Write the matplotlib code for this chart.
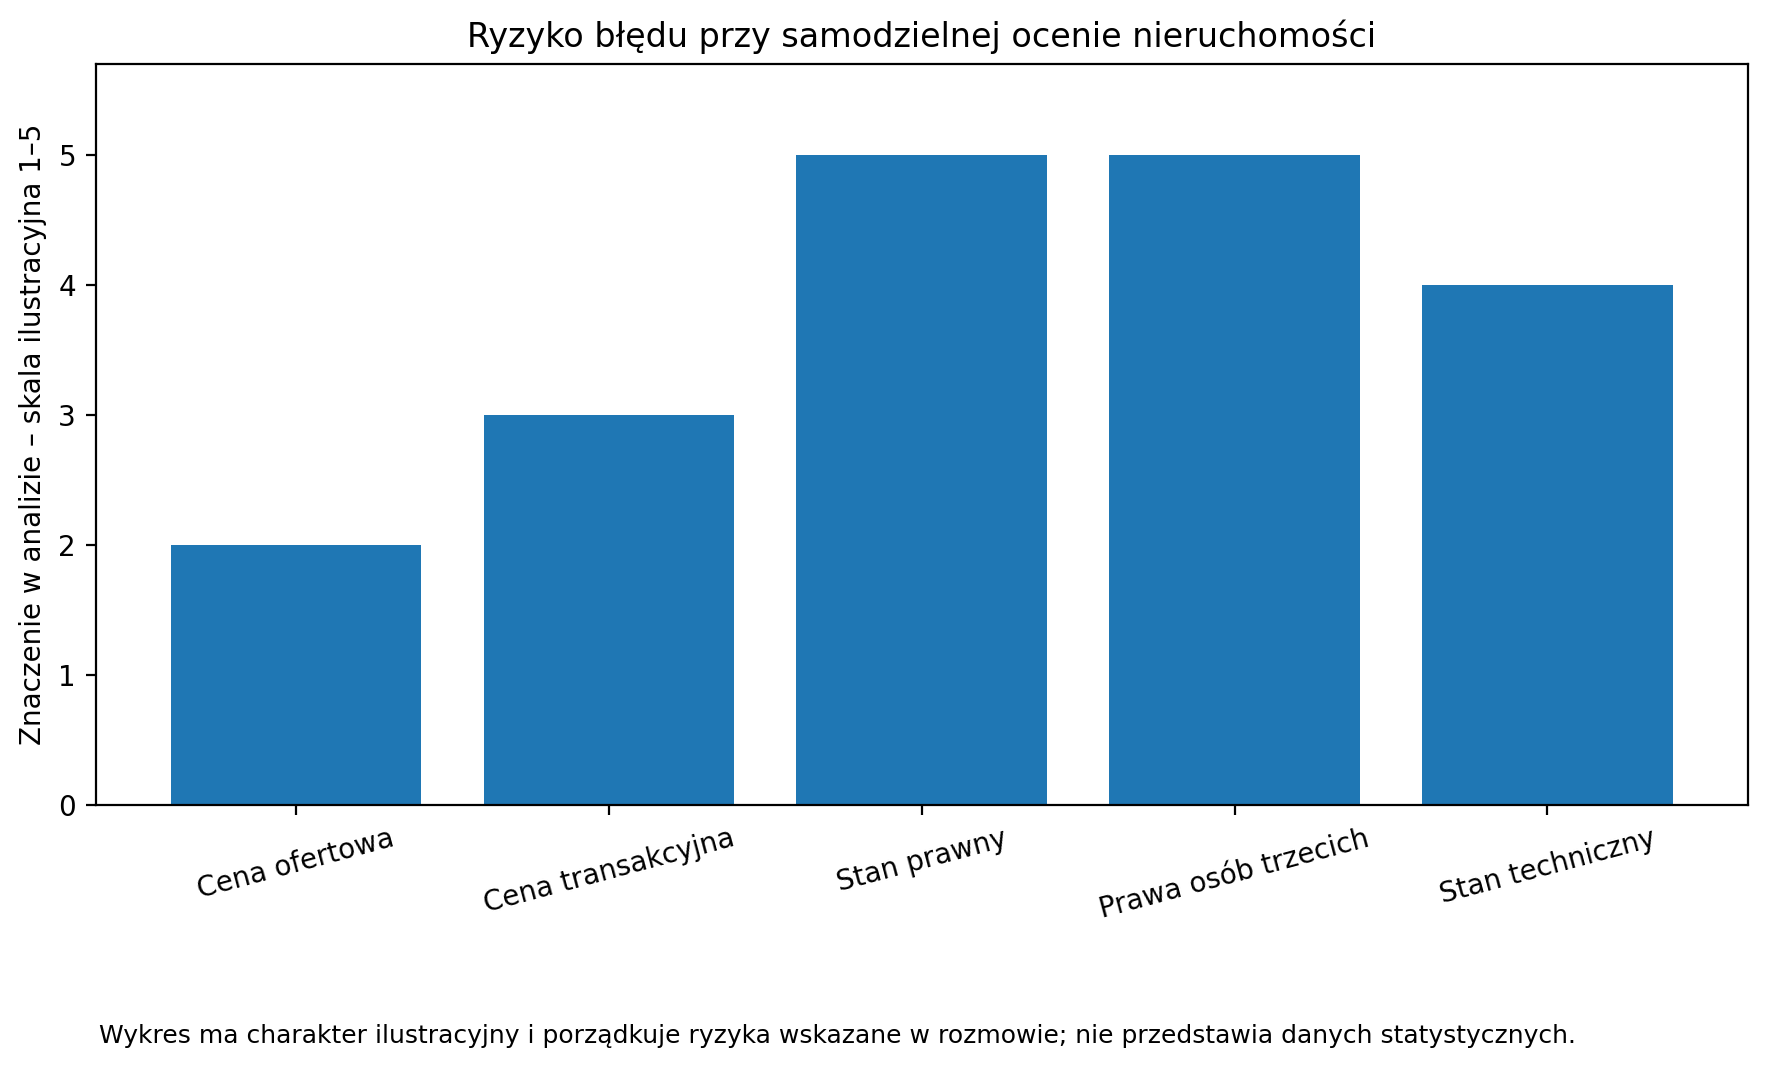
import matplotlib
matplotlib.use("Agg")
import matplotlib.pyplot as plt

# Risk categories and illustrative scores (scale 1-5)
categories = ["Cena ofertowa", "Cena transakcyjna", "Stan prawny",
              "Prawa osób trzecich", "Stan techniczny"]
scores = [2, 3, 5, 5, 4]

title = "Ryzyko błędu przy samodzielnej ocenie nieruchomości"
ylabel = "Znaczenie w analizie – skala ilustracyjna 1–5"
footnote = ("Wykres ma charakter ilustracyjny i porządkuje ryzyka wskazane "
            "w rozmowie; nie przedstawia danych statystycznych.")

fig, ax = plt.subplots(figsize=(8.845, 5.345), dpi=200)
fig.subplots_adjust(left=0.054, right=0.988, top=0.940, bottom=0.247)

ax.bar(categories, scores, color="#1f77b4", width=0.8)
ax.set_ylim(0, 5.7)
ax.set_title(title, fontsize=12)
ax.set_ylabel(ylabel, fontsize=10)
ax.tick_params(axis="x", labelrotation=15)

fig.text(0.056, 0.02, footnote, fontsize=9, ha="left", va="bottom")

fig.savefig("out.png", dpi=200)
